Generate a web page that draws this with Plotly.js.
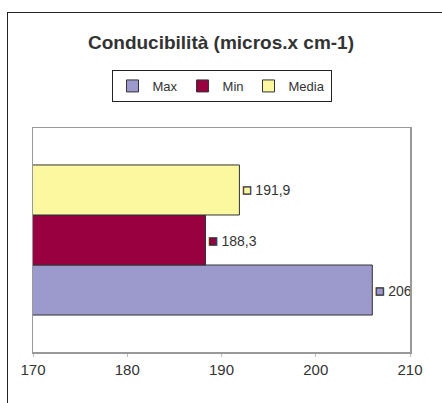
<!DOCTYPE html>
<html>
<head>
<meta charset="utf-8">
<script src="https://cdn.plot.ly/plotly-3.0.1.min.js"></script>
<style>
  html, body { margin: 0; padding: 0; background: #fff; overflow: hidden; }
  #wrap { position: relative; width: 442px; height: 403px; }
  #chart { position: absolute; left: 0; top: 0; width: 442px; height: 403px; }
  #frame { position: absolute; left: 7px; top: 12px; width: 600px; height: 600px;
           border-left: 1px solid #222; border-top: 1px solid #222; pointer-events: none; }
</style>
</head>
<body>
<div id="wrap">
  <div id="chart"></div>
  <div id="frame"></div>
</div>
<script>
const category = ["Conducibilità"];
const seriesNames = ["Max", "Min", "Media"];
const seriesValues = [206, 188.3, 191.9];
const seriesColors = ["#9c99cc", "#990040", "#fbf8a0"];
const xTicks = [170, 180, 190, 200, 210];

const traces = seriesNames.map((name, i) => ({
  type: "bar",
  orientation: "h",
  name: name,
  y: category,
  x: [seriesValues[i]],
  text: ['<span style="fill:' + seriesColors[i] + ';stroke:#333;stroke-width:1.2px;font-size:15px">■</span> ' +
         String(seriesValues[i]).replace(".", ",")],
  textposition: "outside",
  cliponaxis: false,
  textfont: { size: 14, color: "#333" },
  marker: { color: seriesColors[i], line: { color: "#333", width: 1 } },
  hoverinfo: "skip"
}));

const layout = {
  width: 442,
  height: 403,
  margin: { l: 33, r: 32, t: 128, b: 51 },
  paper_bgcolor: "#fff",
  plot_bgcolor: "#fff",
  font: { family: "Liberation Sans, Arial, sans-serif", color: "#333" },
  title: {
    text: "<b>Conducibilità (micros.x cm-1)</b>",
    font: { size: 19, color: "#333" },
    x: 0.5, xanchor: "center",
    y: 1 - 42 / 403, yref: "container", yanchor: "middle"
  },
  showlegend: true,
  legend: {
    orientation: "h",
    x: 0.5, xanchor: "center",
    y: 1.259, yanchor: "top",
    bordercolor: "#222", borderwidth: 1,
    font: { size: 13, color: "#333" },
    traceorder: "normal",
    itemwidth: 30
  },
  barmode: "group",
  bargap: 0.33,
  bargroupgap: 0,
  xaxis: {
    range: [170, 210],
    tickvals: xTicks,
    ticktext: xTicks.map(String),
    showgrid: false,
    zeroline: false,
    showline: true, mirror: true, linecolor: "#999", linewidth: 1.5,
    ticks: "outside", ticklen: 3, tickcolor: "#bbb",
    tickfont: { size: 15, color: "#333" },
    fixedrange: true
  },
  yaxis: {
    type: "category",
    range: [-0.5, 0.5],
    showticklabels: false,
    showgrid: false,
    zeroline: false,
    showline: true, mirror: true, linecolor: "#999", linewidth: 1.5,
    ticks: "",
    fixedrange: true
  }
};

Plotly.newPlot("chart", traces, layout, { staticPlot: true, displayModeBar: false });
</script>
</body>
</html>
